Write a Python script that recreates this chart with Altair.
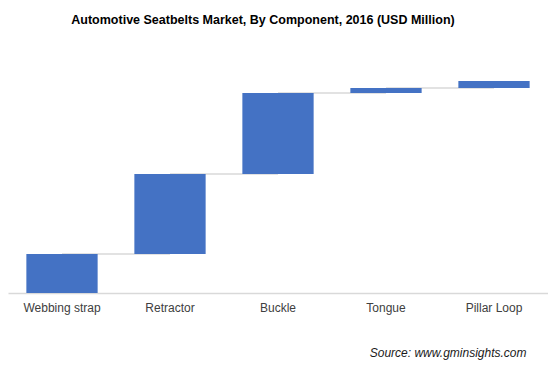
import altair as alt
import pandas as pd

categories = ["Webbing strap", "Retractor", "Buckle", "Tongue", "Pillar Loop"]
values = [1950, 4000, 4050, 250, 350]  # USD Million (estimated)

starts, ends = [], []
total = 0
for v in values:
    starts.append(total)
    total += v
    ends.append(total)

df = pd.DataFrame({
    "component": categories,
    "value": values,
    "start": starts,
    "end": ends,
})
conn = pd.DataFrame({
    "component": categories[:-1],
    "next": categories[1:],
    "level": ends[:-1],
})

H = 243
ymax = H * 50

xscale = alt.Scale(domain=categories, paddingInner=0.34, paddingOuter=0.17)
yscale = alt.Scale(domain=[0, ymax], nice=False, zero=True)

xaxis = alt.Axis(
    title="Source: www.gminsights.com",
    labelAngle=0, labelAlign="center", bandPosition=0.5,
    labelFont="Liberation Sans", labelFontSize=12,
    labelColor="#404040", labelPadding=9, ticks=False,
    domainColor="#d9d9d9", domainWidth=1.5,
    titleFont="Liberation Sans", titleFontSize=12,
    titleFontStyle="italic", titleFontWeight="normal",
    titleColor="#1a1a1a", titleAnchor="end", titleAlign="right",
    titleBaseline="alphabetic", titleX=518, titleY=63,
)

connectors = alt.Chart(conn).mark_rule(color="#d9d9d9", strokeWidth=1.5).encode(
    x=alt.X("component:N", scale=xscale, sort=categories, axis=xaxis),
    x2="next:N",
    y=alt.Y("level:Q", scale=yscale, axis=None),
)

bars = alt.Chart(df).mark_bar(color="#4472C4").encode(
    x=alt.X("component:N", scale=xscale, sort=categories, axis=xaxis),
    y=alt.Y("start:Q", scale=yscale, axis=None),
    y2="end:Q",
)

chart = alt.layer(connectors, bars).properties(
    width=540,
    height=H,
    title=alt.TitleParams(
        "Automotive Seatbelts Market, By Component, 2016 (USD Million)",
        font="Liberation Sans", fontSize=12.5, fontWeight="bold",
        color="#000000", anchor="middle", dx=-15, offset=24,
    ),
    autosize=alt.AutoSizeParams(type="none"),
    padding={"left": 0, "top": 42, "right": 0, "bottom": 80},
).configure_view(stroke=None)

chart.save("out.html", embed_options={"renderer": "svg", "actions": False})
